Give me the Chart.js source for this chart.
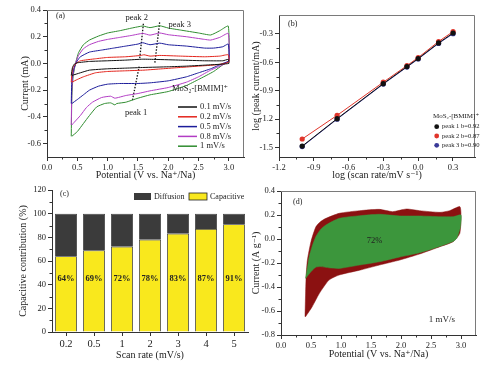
<!DOCTYPE html>
<html>
<head>
<meta charset="utf-8">
<script src="https://cdn.jsdelivr.net/npm/chart.js@4.4.0/dist/chart.umd.min.js"></script>
<style>
html, body { margin: 0; padding: 0; background: #fff; width: 488px; height: 365px; overflow: hidden; }
canvas { position: absolute; }
</style>
</head>
<body>
<canvas id="ca" width="246" height="182" style="left:0;top:0"></canvas>
<canvas id="cb" width="243" height="182" style="left:245px;top:0"></canvas>
<canvas id="cc" width="250" height="183" style="left:0;top:182px"></canvas>
<canvas id="cd" width="243" height="183" style="left:245px;top:182px"></canvas>
<script>
// ---------------- (a) CV curves, closed loops [V, mA] ----------------
const cvLabels = ['0.1 mV/s', '0.2 mV/s', '0.5 mV/s', '0.8 mV/s', '1 mV/s'];
const cv01 = [[0.40,-0.09],[0.42,-0.03],[0.45,-0.005],[0.5,0.005],[0.7,0.015],[1.0,0.02],[1.3,0.025],[1.58,0.032],[1.8,0.03],[2.2,0.025],[2.6,0.02],[2.9,0.02],[2.99,0.03],[3.0,0.0],
  [2.7,-0.01],[2.3,-0.02],[2.0,-0.025],[1.6,-0.03],[1.3,-0.035],[1.0,-0.04],[0.7,-0.05],[0.55,-0.07],[0.41,-0.09]];
const cv02 = [[0.40,-0.14],[0.41,-0.08],[0.43,-0.03],[0.48,0.0],[0.55,0.02],[0.8,0.035],[1.0,0.045],[1.3,0.05],[1.55,0.06],[1.6,0.065],[1.7,0.055],[1.86,0.06],[2.2,0.055],[2.6,0.05],[2.85,0.055],[2.99,0.065],[3.0,0.01],
  [2.8,-0.01],[2.5,-0.02],[2.2,-0.03],[1.9,-0.04],[1.6,-0.05],[1.3,-0.055],[1.0,-0.06],[0.8,-0.07],[0.6,-0.1],[0.5,-0.12],[0.41,-0.14]];
const cv05 = [[0.40,-0.30],[0.41,-0.12],[0.44,-0.04],[0.5,0.02],[0.55,0.05],[0.7,0.085],[0.9,0.1],[1.1,0.115],[1.3,0.13],[1.5,0.145],[1.58,0.155],[1.7,0.14],[1.86,0.152],[2.0,0.14],[2.3,0.13],[2.6,0.115],[2.75,0.115],[2.9,0.125],[2.99,0.145],[3.0,0.02],
  [2.9,0.0],[2.7,-0.04],[2.5,-0.07],[2.3,-0.1],[2.0,-0.13],[1.7,-0.145],[1.5,-0.15],[1.2,-0.15],[1.0,-0.155],[0.85,-0.17],[0.7,-0.2],[0.6,-0.235],[0.5,-0.27],[0.41,-0.30]];
const cv08 = [[0.40,-0.46],[0.41,-0.2],[0.43,-0.08],[0.47,0.0],[0.52,0.06],[0.6,0.11],[0.7,0.14],[0.85,0.165],[1.0,0.18],[1.2,0.195],[1.4,0.21],[1.58,0.225],[1.7,0.212],[1.86,0.228],[2.0,0.215],[2.3,0.2],[2.6,0.18],[2.7,0.175],[2.85,0.195],[2.99,0.225],[3.0,0.02],
  [2.9,-0.01],[2.7,-0.05],[2.5,-0.1],[2.3,-0.14],[2.0,-0.18],[1.7,-0.205],[1.5,-0.225],[1.3,-0.24],[1.12,-0.26],[1.05,-0.245],[0.9,-0.255],[0.75,-0.29],[0.65,-0.33],[0.55,-0.39],[0.45,-0.44],[0.41,-0.46]];
const cv1 = [[0.40,-0.545],[0.41,-0.25],[0.43,-0.1],[0.47,0.0],[0.52,0.08],[0.6,0.14],[0.7,0.175],[0.85,0.205],[1.0,0.228],[1.2,0.245],[1.4,0.265],[1.58,0.28],[1.7,0.268],[1.86,0.282],[2.0,0.265],[2.2,0.25],[2.5,0.228],[2.7,0.213],[2.85,0.245],[2.99,0.28],[3.0,0.02],
  [2.9,-0.01],[2.75,-0.06],[2.5,-0.12],[2.3,-0.165],[2.0,-0.21],[1.7,-0.235],[1.5,-0.26],[1.3,-0.29],[1.15,-0.3],[1.12,-0.31],[1.05,-0.295],[0.95,-0.3],[0.82,-0.325],[0.7,-0.39],[0.6,-0.45],[0.5,-0.51],[0.41,-0.545]];
// dotted peak guides
const peak1Line = [[1.41,-0.274],[1.52,-0.024]];
const peak2Line = [[1.53,0.04],[1.59,0.297]];
const peak3Line = [[1.78,0.006],[1.86,0.314]];
const peakNames = ['peak 1', 'peak 2', 'peak 3'];
const peakLabelAt = [[1.47,-0.372],[1.48,0.342],[2.19,0.29]];
const aTicksX = [0, 0.5, 1.0, 1.5, 2.0, 2.5, 3.0];
const aTicksY = [-0.6, -0.4, -0.2, 0.0, 0.2, 0.4];

// ---------------- (b) log peak current vs log scan rate ----------------
const logRate = [-1.0, -0.699, -0.301, -0.097, 0.0, 0.176, 0.301];
const peak1 = [-1.485, -1.195, -0.825, -0.645, -0.56, -0.395, -0.29];
const peak2 = [-1.41, -1.16, -0.81, -0.635, -0.55, -0.38, -0.275];
const peak3 = [-1.49, -1.2, -0.83, -0.65, -0.565, -0.40, -0.297];
const bLabels = ['peak 1 b=0.92', 'peak 2 b=0.87', 'peak 3 b=0.90'];
const bTicksX = [-1.2, -0.9, -0.6, -0.3, 0.0, 0.3];
const bTicksY = [-1.5, -1.2, -0.9, -0.6, -0.3];

// ---------------- (c) capacitive contribution ----------------
const scanRates = ['0.2', '0.5', '1', '2', '3', '4', '5'];
const capacitive = [64, 69, 72, 78, 83, 87, 91];
const diffusion = [36, 31, 28, 22, 17, 13, 9];
const cTicksY = [0, 20, 40, 60, 80, 100, 120];

// ---------------- (d) 1 mV/s CV split ----------------
const totalLoop = [[0.40,-0.647],[0.41,-0.45],[0.42,-0.3],[0.44,-0.175],[0.5,-0.02],[0.58,0.10],[0.66,0.145],[0.75,0.172],[0.97,0.214],[1.31,0.236],[1.64,0.247],[1.86,0.228],[2.09,0.25],[2.31,0.236],[2.65,0.222],[2.81,0.236],[2.98,0.27],[3.0,0.2],[2.98,0.047],
  [2.87,-0.022],[2.65,-0.064],[2.31,-0.125],[1.98,-0.175],[1.64,-0.217],[1.31,-0.26],[0.97,-0.3],[0.8,-0.342],[0.64,-0.453],[0.52,-0.564],[0.41,-0.647]];
const capLoop = [[0.41,-0.328],[0.44,-0.24],[0.47,-0.147],[0.52,-0.06],[0.58,0.019],[0.66,0.08],[0.75,0.117],[0.97,0.172],[1.31,0.194],[1.64,0.206],[1.98,0.192],[2.31,0.192],[2.65,0.186],[2.87,0.186],[3.0,0.2],[2.99,0.1],[2.93,0.006],
  [2.87,-0.02],[2.65,-0.06],[2.31,-0.115],[1.98,-0.15],[1.64,-0.19],[1.31,-0.217],[0.97,-0.245],[0.8,-0.24],[0.66,-0.23],[0.58,-0.235],[0.5,-0.272],[0.41,-0.328]];
const dShare = '72%';
const dRate = '1 mV/s';
const dTicksY = [-0.8, -0.6, -0.4, -0.2, 0.0, 0.2, 0.4];

// ---------------------------------------------------------------------
const SERIF = "'Liberation Serif', 'Times New Roman', 'DejaVu Serif', serif";
Chart.defaults.font.family = SERIF;
Chart.defaults.color = '#222';
Chart.defaults.animation = false;

const pts = arr => arr.map(p => ({x: p[0], y: p[1]}));
const f1 = v => (Math.abs(v) < 1e-9 ? 0 : v).toFixed(1);

function axis(min, max, ticks, size, title, titlePad, vertical, fmt) {
  return {
    type: 'linear', min: min, max: max,
    afterBuildTicks: s => { s.ticks = ticks.map(v => ({value: v})); },
    afterFit: s => { if (vertical) s.width = size; else s.height = size; },
    grid: {drawOnChartArea: false, drawTicks: true, tickLength: 4, color: '#333', tickColor: '#333'},
    border: {display: true, color: '#333', width: 1},
    ticks: {font: {size: 8.5}, padding: 2, autoSkip: false, maxRotation: 0, color: '#222', callback: v => fmt(v)},
    title: {display: true, text: title, font: {size: 10}, color: '#222', padding: {top: titlePad, bottom: titlePad}}
  };
}

// top + right frame lines
const frame = {
  id: 'frame',
  afterDraw(chart) {
    const {ctx, chartArea: a} = chart;
    ctx.save();
    ctx.strokeStyle = '#7a7a7a';
    ctx.lineWidth = 1;
    ctx.beginPath();
    ctx.moveTo(a.left, a.top + 0.5);
    ctx.lineTo(a.right - 0.5, a.top + 0.5);
    ctx.lineTo(a.right - 0.5, a.bottom);
    ctx.stroke();
    ctx.restore();
  }
};

// small minor ticks halfway between major ticks
const minor = {
  id: 'minor',
  afterDraw(chart) {
    const ctx = chart.ctx;
    ctx.save();
    ctx.strokeStyle = '#333';
    ctx.lineWidth = 1;
    ['x', 'y'].forEach(id => {
      const s = chart.scales[id];
      if (!s || s.type !== 'linear') return;
      const t = s.ticks.map(k => k.value);
      for (let i = 0; i < t.length - 1; i++) {
        const m = (t[i] + t[i + 1]) / 2;
        const p = Math.round(s.getPixelForValue(m)) + 0.5;
        ctx.beginPath();
        if (id === 'x') { ctx.moveTo(p, s.top); ctx.lineTo(p, s.top + 2.5); }
        else { ctx.moveTo(s.right, p); ctx.lineTo(s.right - 2.5, p); }
        ctx.stroke();
      }
    });
    ctx.restore();
  }
};

function text(ctx, t, x, y, size, align, weight) {
  ctx.font = (weight || '') + ' ' + size + 'px ' + SERIF;
  ctx.textAlign = align || 'left';
  ctx.textBaseline = 'middle';
  ctx.fillStyle = '#222';
  ctx.fillText(t, x, y);
}

// ---------------- chart (a) ----------------
const cvColors = ['#111111', '#e3241c', '#1c1c9a', '#b23cc4', '#2f8c2f'];
const cvSets = [cv01, cv02, cv05, cv08, cv1].map((d, i) => ({
  label: cvLabels[i], data: pts(d), showLine: true, borderColor: cvColors[i],
  borderWidth: 1, pointRadius: 0, tension: 0.15, fill: false
}));
const guideSets = [peak1Line, peak2Line, peak3Line].map(d => ({
  data: pts(d), showLine: true, borderColor: '#111', borderWidth: 1.3,
  borderDash: [1.5, 1.5], pointRadius: 0, fill: false
}));

new Chart(document.getElementById('ca'), {
  type: 'scatter',
  data: {datasets: cvSets.concat(guideSets)},
  options: {
    responsive: false,
    layout: {padding: {top: 10, right: 2, left: 0, bottom: 0}},
    plugins: {legend: {display: false}, tooltip: {enabled: false}},
    scales: {
      x: axis(0, 3.25, aTicksX, 25, 'Potential (V vs. Na⁺/Na)', 0.5, false, f1),
      y: axis(-0.7, 0.4, aTicksY, 47, 'Current (mA)', 19, true, f1)
    }
  },
  plugins: [frame, minor, {
    id: 'notesA',
    afterDraw(chart) {
      const {ctx, chartArea: a, scales: {x, y}} = chart;
      ctx.save();
      text(ctx, '(a)', a.left + 9, a.top + 6, 8);
      peakNames.forEach((n, i) => text(ctx, n, x.getPixelForValue(peakLabelAt[i][0]), y.getPixelForValue(peakLabelAt[i][1]), 8.5, 'center'));
      text(ctx, 'MoS₂-[BMIM]⁺', 172, 89, 8.5);
      cvLabels.forEach((l, i) => {
        const yy = 107 + i * 9.8;
        ctx.strokeStyle = cvColors[i];
        ctx.lineWidth = 1.5;
        ctx.beginPath(); ctx.moveTo(178, yy); ctx.lineTo(197, yy); ctx.stroke();
        text(ctx, l, 200, yy, 8.5);
      });
      ctx.restore();
    }
  }]
});

// ---------------- chart (b) ----------------
const bColors = ['#111111', '#e0352b', '#3a3a98'];
const bSets = [peak1, peak2, peak3].map((d, i) => ({
  label: bLabels[i], data: logRate.map((x, k) => ({x: x, y: d[k]})), showLine: true,
  borderColor: bColors[i], backgroundColor: bColors[i], borderWidth: 1,
  pointRadius: 2.6, pointBorderWidth: 0, fill: false
}));

new Chart(document.getElementById('cb'), {
  type: 'scatter',
  data: {datasets: bSets},
  options: {
    responsive: false,
    layout: {padding: {top: 15, right: 13, left: 0, bottom: 0}},
    plugins: {legend: {display: false}, tooltip: {enabled: false}},
    scales: {
      x: axis(-1.2, 0.49, bTicksX, 25, 'log (scan rate/mV s⁻¹)', 0.5, false, f1),
      y: axis(-1.6, -0.1, bTicksY, 34, 'log (peak current/mA)', 5.4, true, f1)
    }
  },
  plugins: [frame, minor, {
    id: 'notesB',
    afterDraw(chart) {
      const {ctx, chartArea: a} = chart;
      ctx.save();
      text(ctx, '(b)', a.left + 9, a.top + 9, 8);
      text(ctx, 'MoS₂-[BMIM]⁺', 211, 116, 7, 'center');
      bLabels.forEach((l, i) => {
        const yy = 126.7 + i * 9.3;
        ctx.fillStyle = bColors[i];
        ctx.beginPath(); ctx.arc(191.7, yy, 2.4, 0, Math.PI * 2); ctx.fill();
        text(ctx, l, 197, yy, 6.6);
      });
      ctx.restore();
    }
  }]
});

// ---------------- chart (c) ----------------
const capColor = '#f9e81d';
const difColor = '#3b3b3b';
new Chart(document.getElementById('cc'), {
  type: 'bar',
  data: {
    labels: scanRates,
    datasets: [
      {label: 'Capacitive', data: capacitive, backgroundColor: capColor, borderColor: '#222', borderWidth: 0.8, barPercentage: 0.78, categoryPercentage: 1},
      {label: 'Diffusion', data: diffusion, backgroundColor: difColor, borderColor: '#222', borderWidth: 0.8, barPercentage: 0.78, categoryPercentage: 1}
    ]
  },
  options: {
    responsive: false,
    layout: {padding: {top: 8, right: 2, left: 0, bottom: 0}},
    plugins: {legend: {display: false}, tooltip: {enabled: false}},
    scales: {
      x: {
        type: 'category', stacked: true,
        afterFit: s => { s.height = 33; },
        grid: {offset: false, drawOnChartArea: false, drawTicks: true, tickLength: 4, color: '#333'},
        border: {display: true, color: '#333'},
        ticks: {font: {size: 10.5}, padding: 2, color: '#222'},
        title: {display: true, text: 'Scan rate (mV/s)', font: {size: 10}, color: '#222', padding: {top: 0, bottom: 4}}
      },
      y: Object.assign(axis(0, 120, cTicksY, 52, 'Capacitive contribution (%)', 17.4, true, v => String(v)), {stacked: true})
    }
  },
  plugins: [minor, {
    id: 'notesC',
    afterDraw(chart) {
      const {ctx, chartArea: a, scales: {x, y}} = chart;
      ctx.save();
      text(ctx, '(c)', a.left + 8, a.top + 4, 8);
      capacitive.forEach((v, i) => text(ctx, v + '%', x.getPixelForValue(i), y.getPixelForValue(45), 8.5, 'center', 'bold'));
      ctx.fillStyle = difColor;
      ctx.fillRect(134, 11, 17, 7);
      text(ctx, 'Diffusion', 154, 14.5, 8);
      ctx.fillStyle = capColor;
      ctx.fillRect(189, 11, 18, 7);
      ctx.strokeStyle = '#222'; ctx.lineWidth = 0.8;
      ctx.strokeRect(189, 11, 18, 7);
      text(ctx, 'Capacitive', 210, 14.5, 8);
      ctx.restore();
    }
  }]
});

// ---------------- chart (d) ----------------
// capacitive loop listed first so it is painted on top of the total loop
new Chart(document.getElementById('cd'), {
  type: 'scatter',
  data: {
    datasets: [
      {label: 'capacitive', data: pts(capLoop), showLine: true, borderColor: '#3c963c', backgroundColor: '#3c963c', borderWidth: 0.5, pointRadius: 0, tension: 0.2, fill: 'shape'},
      {label: 'total', data: pts(totalLoop), showLine: true, borderColor: '#8b1111', backgroundColor: '#8b1111', borderWidth: 0.5, pointRadius: 0, tension: 0.2, fill: 'shape'}
    ]
  },
  options: {
    responsive: false,
    layout: {padding: {top: 9, right: 12, left: 0, bottom: 0}},
    plugins: {legend: {display: false}, tooltip: {enabled: false}, filler: {drawTime: 'beforeDatasetDraw'}},
    scales: {
      x: axis(0, 3.25, aTicksX, 30, 'Potential (V vs. Na⁺/Na)', 4.4, false, f1),
      y: axis(-0.8, 0.4, dTicksY, 36, 'Current (A g⁻¹)', 5.4, true, f1)
    }
  },
  plugins: [frame, minor, {
    id: 'notesD',
    afterDraw(chart) {
      const {ctx, chartArea: a, scales: {x, y}} = chart;
      ctx.save();
      text(ctx, '(d)', a.left + 12, a.top + 11, 8);
      text(ctx, dShare, x.getPixelForValue(1.56), y.getPixelForValue(-0.017), 8.5, 'center');
      text(ctx, dRate, x.getPixelForValue(2.68), y.getPixelForValue(-0.675), 9, 'center');
      ctx.restore();
    }
  }]
});
</script>
</body>
</html>
